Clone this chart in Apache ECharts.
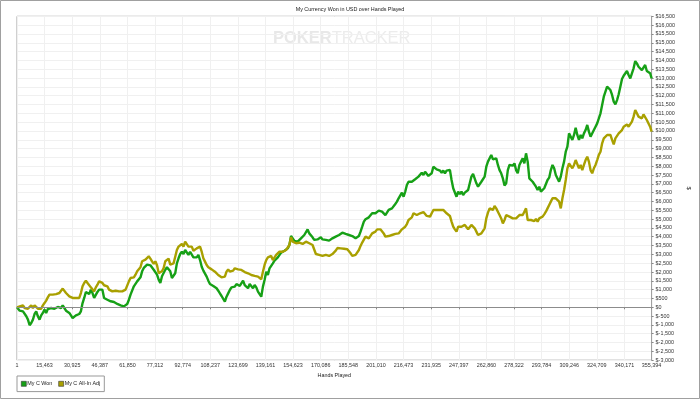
<!DOCTYPE html>
<html>
<head>
<meta charset="utf-8">
<script src="https://cdn.jsdelivr.net/npm/echarts@6/dist/echarts.min.js"></script>
<style>html,body{margin:0;padding:0;background:#fff;}#c{width:700px;height:399px;}</style>
</head>
<body>
<div id="c"></div>
<script>
const titleText = 'My Currency Won in USD over Hands Played';
const seriesNames = ['My C Won', 'My C All-In Adj'];
const xTicks = [1, 15463, 30925, 46387, 61850, 77312, 92774, 108237, 123699, 139161, 154623, 170086, 185548, 201010, 216473, 231935, 247397, 262860, 278322, 293784, 309246, 324709, 340171, 355394];

const hands = [1,
574,1501,2428,3354,4281,5208,6134,7061,7988,8914,9841,10768,11694,12621,13548,14474,15401,16328,17254,18181,19108,20034,20961,21888,22814,23741,24668,25594,26521,27448,28374,29301,30228,31154,32081,33008,33934,34861,35788,36714,37641,38568,39494,40421,41348,42274,43201,44128,45054,45981,46908,47834,48761,49688,50614,51541,52468,53394,54321,55248,56174,57101,58028,58954,59881,60808,61734,62661,63588,64514,65441,66368,67294,68221,69148,70074,71001,71928,72854,73781,74708,75634,76561,77488,78414,79341,80268,81194,82121,83048,83974,84901,85828,
86754,87681,88608,89534,90461,91388,92314,93241,94168,95094,96021,96948,97874,98801,99728,100654,101581,102508,103434,104361,105288,106214,107141,108068,108994,109921,110848,111774,112701,113628,114554,115481,116408,117334,118261,119188,120114,121041,121968,122894,123821,124748,125674,126601,127528,128454,129381,130308,131234,132161,133088,134014,134941,135868,136794,137721,138648,139574,140501,141428,142354,143281,144208,145134,146061,146988,147914,148841,149768,150694,151621,152548,153474,154401,155328,156254,157181,158108,159034,159961,160888,161814,162741,163668,164594,165521,166448,167374,168301,169228,170154,171081,172008,172934,173861,174788,175714,
176641,177568,178494,179421,180348,181274,182201,183128,184054,184981,185908,186834,187761,188688,189614,190541,191468,192394,193321,194248,195174,196101,197028,197954,198881,199808,200734,201661,202588,203514,204441,205368,206294,207221,208148,209074,210001,210928,211854,212781,213708,214634,215561,216488,217414,218341,219268,220194,221121,222048,222974,223901,224828,225754,226681,227608,228534,229461,230388,231314,232241,233168,234094,235021,235948,236874,237801,238728,239654,240581,241508,242434,243361,244288,245214,246141,247068,247994,248921,249848,250774,251701,252628,253554,254481,255408,256334,257261,258188,259114,260041,260968,261894,262821,263748,264674,
265601,266528,267454,268381,269308,270234,271161,272088,273014,273941,274868,275794,276721,277648,278574,279501,280428,281354,282281,283208,284134,285061,285988,286914,287841,288768,289694,290621,291548,292474,293401,294328,295254,296181,297108,298034,298961,299888,300814,301741,302668,303594,304521,305448,306374,307301,308228,309154,310081,311008,311934,312861,313788,314714,315641,316568,317494,318421,319348,320274,321201,322128,323054,323981,324908,325834,326761,327688,328614,329541,330468,331394,332321,333248,334174,335101,336028,336954,337881,338808,339734,340661,341588,342514,343441,344368,345294,346221,347148,348074,349001,349928,350854,351781,352708,353634,354561,355394];

const won = [0,
-40,-190,-130,-230,-320,-510,-700,-1020,-890,-700,
-380,-230,-510,-700,-460,-320,-130,-320,-100,0,
-40,-100,-80,0,20,-80,-40,110,-40,-190,
-130,-320,-460,-610,-510,-460,-570,-380,-230,240,
530,870,870,750,1000,810,530,560,870,1000,
1090,1000,530,530,430,380,340,300,300,240,
190,150,110,0,50,110,190,430,720,810,
1190,1280,1470,1570,1700,2040,2230,2270,2420,2510,
2380,2270,2130,2190,1850,1570,1380,1760,1850,2130,
2270,2320,2040,1660,
1550,1930,2490,2780,3020,3150,3020,3250,3150,2970,
3150,3060,2830,2720,2830,2970,2680,2300,2080,2020,
1740,1510,1320,1260,1210,1170,1080,940,790,640,
600,320,600,790,980,1130,1080,1170,1320,1260,
1210,1320,1510,1260,1210,1080,1320,1210,1080,1260,
1130,890,980,600,1170,1550,2020,1830,2210,2300,
2490,2640,2720,2830,2870,3100,3190,3210,3250,3340,
3530,4040,3910,3760,3850,3720,3780,3910,4010,4100,
4190,4420,4190,4100,3970,3820,3720,3850,3910,3970,
3850,3910,3820,3850,3780,3850,3910,3970,4010,
4060,4100,4190,4230,4190,4160,4120,4100,4190,4040,
3970,3910,3820,4040,4290,4570,4860,4990,4950,5100,
5180,5330,5370,5330,5420,5480,5370,5420,5330,5230,
5330,5520,5560,5610,5710,5860,5990,6180,6270,6500,
6270,6560,6930,7120,7030,7120,7070,7260,7220,7410,
7500,7630,7500,7690,7600,7450,7410,7600,7970,7940,
7820,7880,7750,7630,7750,7600,7750,7690,7790,7220,
6750,6650,6270,6560,6420,6560,6370,6500,6610,6650,
7030,7410,7560,7600,7030,6840,6880,7120,7220,7410,
7970,8260,8350,8640,8390,8450,
8450,8070,7780,7600,7310,6900,7030,7780,8070,8110,
8030,8160,7780,7600,8070,8260,8450,8160,8730,8260,
7310,7220,7120,7160,6840,6650,6840,6560,6460,6750,
6840,7220,7350,7780,8070,7880,7500,7410,7120,7410,
7880,8260,8820,9110,9860,9770,9490,9770,10180,9770,
9490,9770,9580,9860,10050,10340,9960,9670,9770,10050,
10240,10430,10710,11000,11470,11940,12230,12510,12600,12320,
12040,11660,11510,11750,12080,12510,12940,13130,13170,13400,
13170,12980,13270,13550,13960,13830,13640,13740,13450,13550,
13740,13400,13510,13270,12980];

const allInAdj = [0,
110,50,0,110,-40,50,-80,-40,110,-40,
110,150,-80,0,-80,110,240,380,560,720,
750,720,810,750,720,810,940,1060,1060,810,
720,620,560,530,430,530,620,530,810,1190,
1380,1510,1380,1280,1130,1060,900,1130,1280,1470,
1510,1380,1250,1210,1190,1000,940,900,900,940,
940,900,870,900,900,1000,1090,1470,1660,1620,
1700,1850,2040,2130,2270,2610,2700,2700,2800,2890,
2760,2610,2460,2610,2380,1940,1850,2040,2230,2610,
2700,2760,2420,2320,
2490,2870,3250,3440,3530,3590,3440,3720,3660,3440,
3530,3440,3210,3250,3340,3250,3440,3150,2780,2590,
2400,2270,2210,2150,2120,2020,1930,1830,1740,1700,
1640,1740,2020,2150,2020,2120,2080,2210,2120,2150,
2210,2120,2020,2000,1960,1930,1890,1830,1930,1780,
1890,1740,1780,1590,2020,2400,2680,2830,2780,2910,
2680,2780,2970,3060,3150,3250,3150,3190,3250,3290,
3530,3970,3720,3630,3630,3660,3660,3630,3590,3660,
3720,3720,3630,3590,3530,3440,3020,2910,2970,2950,
2910,2950,2970,2950,2910,2970,3020,3100,3210,
3360,3400,3340,3290,3320,3340,3290,3210,3060,2910,
3020,2970,2970,3250,3480,3670,3780,4010,3970,3910,
4010,4190,4230,4290,4420,4380,4420,4380,4190,4010,
4040,4040,4080,4100,4120,4160,4180,4190,4290,4420,
4380,4570,4720,4950,5040,5100,5330,5420,5230,5330,
5330,5420,5400,5420,5180,5230,5140,5330,5520,5610,
5520,5560,5520,5610,5520,5420,5330,5230,5180,4860,
4570,4420,4290,4570,4670,4570,4480,4670,4570,4420,
4480,4670,4570,4480,4290,4100,4040,4190,4290,4480,
5040,5370,5610,5710,5520,5740,
5610,5420,5230,5040,4760,4950,5230,5270,5140,5230,
5040,5140,5040,5140,5230,5330,5230,5420,5610,4950,
4860,4950,4860,4890,5010,4860,5040,4950,5140,5270,
5420,5610,5800,5990,6180,6270,6180,6270,5990,5610,
6180,6650,7220,7880,8160,8070,7880,8070,8350,8260,
7880,8070,7780,8070,8350,8540,8260,7780,7600,7880,
8070,8350,8640,8820,9300,9580,9670,9770,9860,9770,
9490,9240,9580,9670,9860,9920,10050,10240,10340,10370,
10240,10340,10530,10810,11190,11000,10810,10900,10710,10940,
10900,10620,10530,10240,9960];

const FONT = '"Liberation Sans", Arial, sans-serif';
const chart = echarts.init(document.getElementById('c'), null, {renderer: 'canvas'});
const pair = arr => hands.map((h, i) => [h, arr[i]]);

chart.setOption({
  animation: false,
  backgroundColor: '#fff',
  title: {
    text: titleText, left: 'center', top: 7, padding: 0,
    textStyle: {fontSize: 5.4, fontWeight: 'normal', color: '#222', fontFamily: FONT}
  },
  legend: {
    left: 17, top: 376, itemWidth: 5, itemHeight: 5, itemGap: 6,
    padding: [5, 4, 5, 4], borderColor: '#999', borderWidth: 1, borderRadius: 0,
    icon: 'rect',
    itemStyle: {borderColor: '#333', borderWidth: 0.6},
    textStyle: {fontSize: 5.4, color: '#222', fontFamily: FONT, padding: [0, 0, 0, -4]},
    data: seriesNames
  },
  grid: {left: 17, right: 43, top: 16.3, bottom: 38.8, show: true, borderColor: '#a0a0a0', borderWidth: 1},
  xAxis: {
    type: 'value', min: 1, max: 355394,
    name: 'Hands Played', nameLocation: 'middle', nameGap: 12,
    nameTextStyle: {fontSize: 5.4, color: '#222', fontFamily: FONT},
    axisLine: {show: true, lineStyle: {color: '#a0a0a0'}},
    axisTick: {show: true, length: 2, lineStyle: {color: '#888'}, customValues: xTicks},
    axisLabel: {customValues: xTicks, fontSize: 5.4, color: '#333', margin: 3, fontFamily: FONT,
      showMinLabel: true, showMaxLabel: true,
      formatter: v => Math.round(v).toLocaleString('en-US')},
    splitLine: {show: true, lineStyle: {color: '#f0f0f0', width: 1}}
  },
  yAxis: {
    type: 'value', position: 'right', min: -3000, max: 16500, interval: 500,
    name: '$', nameLocation: 'middle', nameGap: 24, nameRotate: -90,
    nameTextStyle: {fontSize: 6, color: '#333', fontFamily: FONT},
    axisLine: {show: true, lineStyle: {color: '#a0a0a0'}},
    axisTick: {show: true, length: 2, lineStyle: {color: '#888'}},
    axisLabel: {fontSize: 5.4, color: '#333', margin: 4, fontFamily: FONT,
      formatter: v => '$' + v.toLocaleString('en-US')},
    splitLine: {show: true, lineStyle: {color: '#f0f0f0', width: 1}}
  },
  graphic: [
    {type: 'text', left: 273, top: 30, z: 0, silent: true,
     style: {text: '{a|POKER}{b|TRACKER}', rich: {
       a: {fontSize: 16.5, fontWeight: 'bold', fill: '#e8e8e8', fontFamily: FONT},
       b: {fontSize: 16.5, fill: '#ececec', fontFamily: FONT}}}},
    {type: 'rect', z: 100, silent: true, shape: {x: 0.5, y: 0.5, width: 699, height: 398},
     style: {fill: 'none', stroke: '#a0a0a0', lineWidth: 1}}
  ],
  series: [
    {name: seriesNames[0], type: 'line', data: pair(won), showSymbol: false, symbol: 'none',
     color: '#16a016', lineStyle: {width: 2.4, color: '#16a016'},
     markLine: {silent: true, symbol: 'none', label: {show: false},
       lineStyle: {color: '#8c8c8c', width: 1, type: 'solid'}, data: [{yAxis: 0}]}},
    {name: seriesNames[1], type: 'line', data: pair(allInAdj), showSymbol: false, symbol: 'none',
     color: '#a9a000', lineStyle: {width: 2.4, color: '#a9a000'}}
  ]
});
</script>
</body>
</html>
